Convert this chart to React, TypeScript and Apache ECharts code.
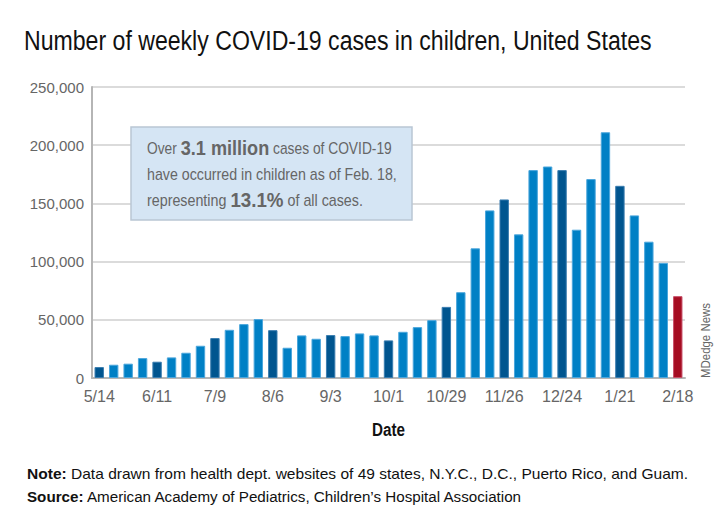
import React, { useEffect, useRef } from "react";
import * as echarts from "echarts";

const categories = [
  "5/14", "5/21", "5/28", "6/4", "6/11", "6/18", "6/25", "7/2", "7/9", "7/16",
  "7/23", "7/30", "8/6", "8/13", "8/20", "8/27", "9/3", "9/10", "9/17", "9/24",
  "10/1", "10/8", "10/15", "10/22", "10/29", "11/5", "11/12", "11/19", "11/26", "12/3",
  "12/10", "12/17", "12/24", "12/31", "1/7", "1/14", "1/21", "1/28", "2/4", "2/11",
  "2/18",
];

const weeklyCases = [
  9400, 11400, 12300, 17100, 14000, 17700, 21700, 27700, 34300, 41400,
  46300, 50600, 41100, 26000, 36600, 33700, 36900, 36000, 38300, 36600,
  32300, 39700, 43700, 49700, 61100, 73700, 111400, 144000, 153400, 123400,
  178600, 181700, 178600, 127400, 170900, 211100, 165100, 139700, 117100, 98900,
  70300,
];

const yTicks = [0, 50000, 100000, 150000, 200000, 250000];

const FONT = "Liberation Sans";
const SANS = "'Liberation Sans', 'Roboto', sans-serif";

type Seg = { t: string; size: number; bold?: boolean };

function measureSegs(segs: Seg[]): number {
  const c = document.createElement("canvas");
  const ctx = c.getContext("2d");
  if (!ctx) return 1;
  let w = 0;
  for (const s of segs) {
    ctx.font = `${s.bold ? "bold " : ""}${s.size}px '${FONT}'`;
    w += ctx.measureText(s.t).width;
  }
  return w || 1;
}

function fitText(
  segs: Seg[],
  x: number,
  y: number,
  targetWidth: number,
  fill: string,
  z = 11
) {
  const w = measureSegs(segs);
  const rich: Record<string, any> = {};
  let text = "";
  segs.forEach((s, i) => {
    rich["s" + i] = {
      fontFamily: SANS,
      fontSize: s.size,
      fontWeight: s.bold ? "bold" : "normal",
      fill,
    };
    text += `{s${i}|${s.t}}`;
  });
  return {
    type: "text",
    x,
    y,
    z,
    scaleX: targetWidth / w,
    style: { text, rich, verticalAlign: "middle", align: "left" },
  };
}

export default function App() {
  const ref = useRef<HTMLDivElement>(null);

  useEffect(() => {
    if (!ref.current) return;
    const chart = echarts.init(ref.current, undefined, { renderer: "svg" });

    const barData = weeklyCases.map((v, i) => {
      let color = "#0080c5";
      let border = "#4ba6dc";
      if (i === weeklyCases.length - 1) {
        color = "#a50d22";
        border = "#c8506a";
      } else if (i % 4 === 0) {
        color = "#00558f";
        border = "#3a7db0";
      }
      return { value: v, itemStyle: { color, borderColor: border, borderWidth: 1 } };
    });

    const mdW = measureSegs([{ t: "MDedge News", size: 13 }]);

    chart.setOption({
      animation: false,
      backgroundColor: "#ffffff",
      grid: { left: 92, right: 35, top: 87, bottom: 150 },
      xAxis: {
        type: "category",
        data: categories,
        boundaryGap: true,
        axisLine: { lineStyle: { color: "#b5b5b5", width: 2 } },
        axisTick: { show: false },
        axisLabel: {
          interval: 3,
          color: "#666",
          fontFamily: SANS,
          fontSize: 16,
          margin: 10,
        },
      },
      yAxis: {
        type: "value",
        min: yTicks[0],
        max: yTicks[yTicks.length - 1],
        interval: yTicks[1] - yTicks[0],
        axisLine: { show: true, lineStyle: { color: "#b5b5b5", width: 2 } },
        axisTick: { show: false },
        splitLine: { lineStyle: { color: "#cfcfcf", width: 1.5 } },
        axisLabel: {
          color: "#666",
          fontFamily: SANS,
          fontSize: 15,
          margin: 8,
          formatter: (v: number) => v.toLocaleString("en-US"),
        },
      },
      series: [
        {
          type: "bar",
          data: barData,
          barCategoryGap: "35%",
        },
      ],
      graphic: [
        fitText(
          [{ t: "Number of weekly COVID-19 cases in children, United States", size: 28 }],
          24,
          40,
          628,
          "#111"
        ),
        fitText([{ t: "Date", size: 19, bold: true }], 372, 429, 33, "#111"),
        {
          type: "rect",
          shape: { x: 131, y: 127, width: 281, height: 93 },
          style: { fill: "#d5e5f4", stroke: "#b9c6d4", lineWidth: 1.5 },
          z: 10,
        },
        fitText(
          [
            { t: "Over ", size: 16 },
            { t: "3.1 million", size: 21, bold: true },
            { t: " cases of COVID-19", size: 16 },
          ],
          147,
          148,
          245,
          "#666"
        ),
        fitText([{ t: "have occurred in children as of Feb. 18,", size: 16 }], 147, 174, 250, "#666"),
        fitText(
          [
            { t: "representing ", size: 16 },
            { t: "13.1%", size: 21, bold: true },
            { t: " of all cases.", size: 16 },
          ],
          147,
          200,
          216,
          "#666"
        ),
        {
          type: "text",
          x: 706,
          y: 378,
          rotation: Math.PI / 2,
          scaleX: 75 / mdW,
          style: {
            text: "MDedge News",
            fontFamily: SANS,
            fontSize: 13,
            fill: "#666",
            align: "left",
            verticalAlign: "middle",
          },
        },
        fitText(
          [
            { t: "Note:", size: 15, bold: true },
            { t: " Data drawn from health dept. websites of 49 states, N.Y.C., D.C., Puerto Rico, and Guam.", size: 15 },
          ],
          27,
          474,
          661,
          "#111"
        ),
        fitText(
          [
            { t: "Source:", size: 15, bold: true },
            { t: " American Academy of Pediatrics, Children\u2019s Hospital Association", size: 15 },
          ],
          27,
          497,
          497,
          "#111"
        ),
      ],
    });

    return () => chart.dispose();
  }, []);

  return <div ref={ref} style={{ width: 720, height: 528, position: "absolute", left: 0, top: 0 }} />;
}
